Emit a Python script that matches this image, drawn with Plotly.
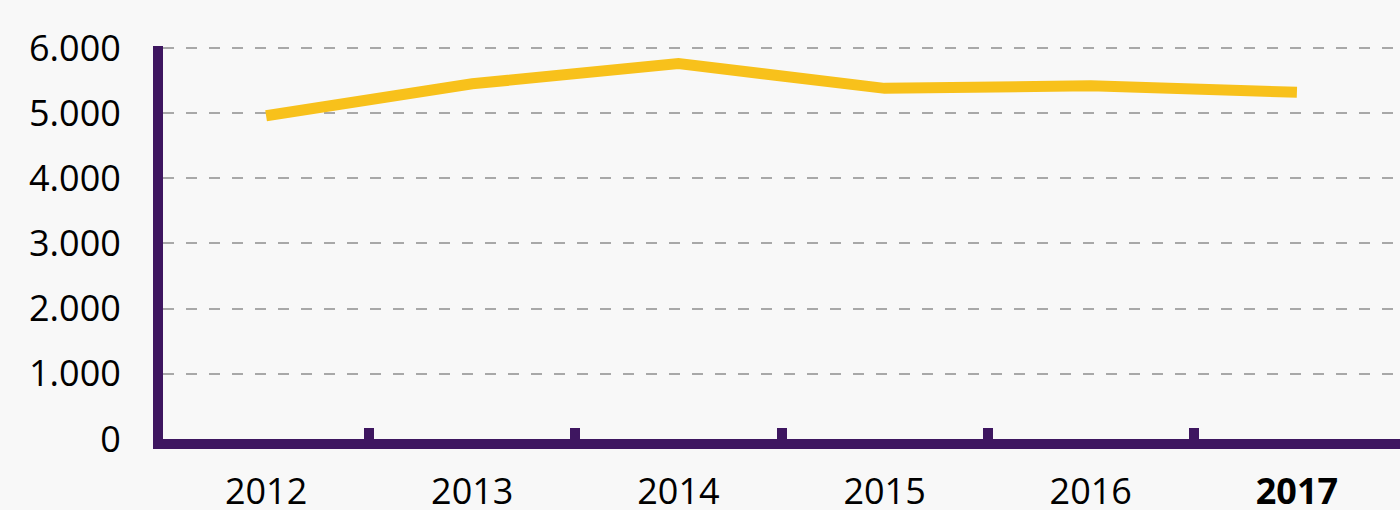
import plotly.graph_objects as go

years = ["2012", "2013", "2014", "2015", "2016", "2017"]
tick_labels = ["2012", "2013", "2014", "2015", "2016", "<b>2017</b>"]
values = [4960, 5450, 5760, 5380, 5420, 5320]
y_ticks = [0, 1000, 2000, 3000, 4000, 5000, 6000]
y_tick_labels = ["0", "1.000", "2.000", "3.000", "4.000", "5.000", "6.000"]
boundaries = [0.5, 1.5, 2.5, 3.5, 4.5, 5.5]

PURPLE = "#3E1660"
GOLD = "#F8C11B"
BG = "#F8F8F8"

fig = go.Figure()
fig.add_trace(go.Scatter(
    x=list(range(len(years))), y=values, mode="lines",
    line=dict(color=GOLD, width=11),
    hoverinfo="skip", showlegend=False,
))
# invisible trace to activate the boundary-tick axis
fig.add_trace(go.Scatter(
    x=[0], y=[0], mode="markers", marker=dict(opacity=0),
    xaxis="x2", hoverinfo="skip", showlegend=False,
))

fig.update_layout(
    width=1400, height=510,
    margin=dict(l=163, r=0, t=46, b=71, pad=0),
    paper_bgcolor=BG, plot_bgcolor=BG,
    font=dict(family="Open Sans", size=36, color="#000000"),
    showlegend=False,
    xaxis=dict(
        range=[-0.5, 5.5], automargin=False,
        tickmode="array", tickvals=list(range(len(years))), ticktext=tick_labels,
        showgrid=False, zeroline=False,
        showline=True, linecolor=PURPLE, linewidth=10,
        ticks="", ticklabelstandoff=12,
    ),
    xaxis2=dict(
        overlaying="x", range=[-0.5, 5.5], automargin=False,
        tickmode="array", tickvals=boundaries,
        ticks="inside", ticklen=11, tickwidth=10, tickcolor=PURPLE,
        showticklabels=False, showgrid=False, zeroline=False, showline=False,
        anchor="y", side="bottom",
    ),
    yaxis=dict(
        range=[0, 6030], automargin=False,
        tickmode="array", tickvals=y_ticks, ticktext=y_tick_labels,
        showgrid=True, gridcolor="#A8A8A8", gridwidth=1.5, griddash="11px,12px",
        zeroline=False,
        showline=True, linecolor=PURPLE, linewidth=10,
        ticks="", ticklabelstandoff=25,
    ),
)

fig.write_html(
    "out.html",
    config={"displayModeBar": False},
    post_script="document.body.style.margin='0';document.body.style.overflow='hidden';",
)
